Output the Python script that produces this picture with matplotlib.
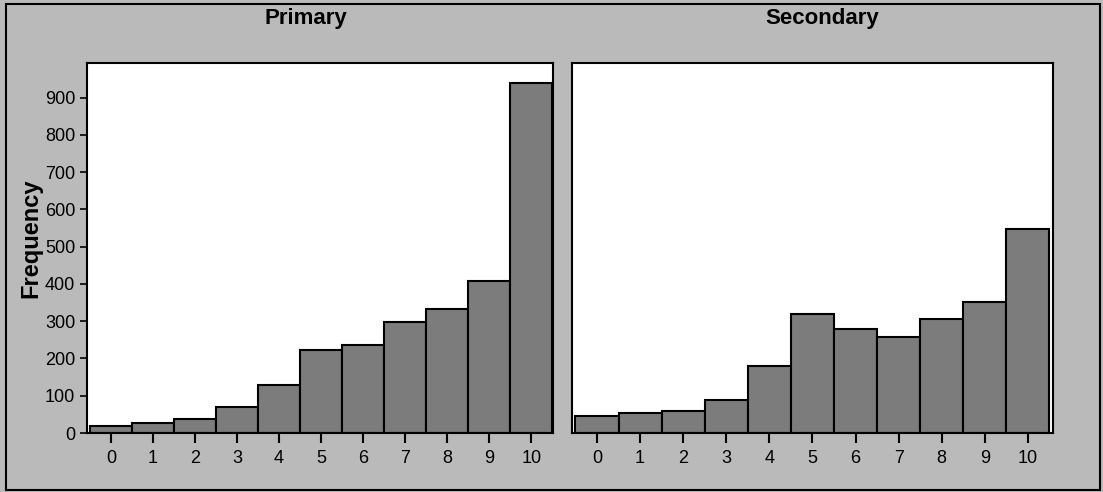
import matplotlib
matplotlib.use("Agg")
import matplotlib.pyplot as plt
from matplotlib.patches import Rectangle

plt.rcParams['font.family'] = ['Liberation Sans', 'DejaVu Sans']

scores = list(range(11))
primary = [20, 26, 38, 71, 129, 222, 235, 298, 333, 409, 940]
secondary = [46, 53, 59, 88, 179, 320, 280, 259, 305, 351, 548]
titles = ["Primary", "Secondary"]

bg = "#bababa"
bar_color = "#7c7c7c"

fig = plt.figure(figsize=(11.03, 4.92), dpi=100, facecolor=bg)
ax1 = fig.add_axes([0.0789, 0.1199, 0.4225, 0.752])
ax2 = fig.add_axes([0.5186, 0.1199, 0.436, 0.752])

for ax, vals, title, tx in [(ax1, primary, titles[0], 0.47), (ax2, secondary, titles[1], 0.52)]:
    ax.bar(scores, vals, width=1.0, color=bar_color, edgecolor="black", linewidth=1.5)
    ax.set_ylim(0, 993)
    ax.set_xticks(scores)
    ax.set_xticklabels([str(s) for s in scores], fontsize=13)
    ax.tick_params(axis="x", length=7, width=1.5, pad=5, color="black")
    for sp in ax.spines.values():
        sp.set_linewidth(1.5)
    ax.set_facecolor("white")
    ax.set_title(title, fontsize=16, fontweight="bold", pad=28, x=tx)

ax1.set_xlim(-0.57, 10.52)
ax2.set_xlim(-0.58, 10.58)
ax1.set_yticks(range(0, 1000, 100))
ax1.tick_params(axis="y", labelsize=13, length=5, width=1.2)
ax1.set_ylabel("Frequency", fontsize=17, fontweight="bold")
ax1.yaxis.set_label_coords(-0.095, 0.527)
ax2.set_yticks([])

# outer frame
fig.patches.append(Rectangle((0.005, 0.004), 0.992, 0.988, transform=fig.transFigure,
                             fill=False, edgecolor="black", linewidth=1.5))

fig.savefig("out.png", dpi=100, facecolor=bg)
